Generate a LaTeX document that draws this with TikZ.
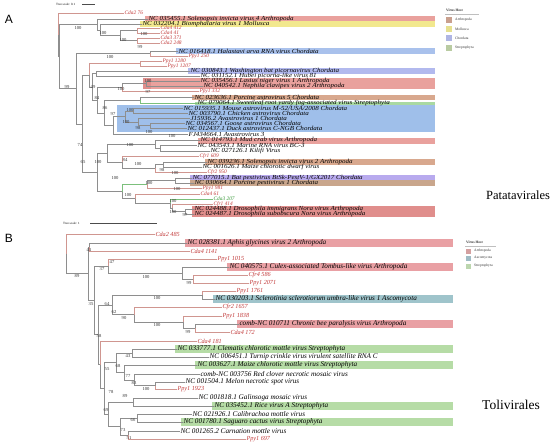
\documentclass[tikz,border=0pt]{standalone}
\usepackage{fontspec}
\setmainfont{Liberation Serif}
\setsansfont{Liberation Sans}
\newfontfamily\wideserif[FakeStretch=1.13]{Liberation Serif}
\definecolor{redlab}{HTML}{C23A3A}
\definecolor{greenlab}{HTML}{3A9A3A}
\definecolor{treegray}{HTML}{8E8E8E}
\definecolor{redbr}{HTML}{D09690}
\definecolor{greenbr}{HTML}{7CC07C}
\definecolor{arthA}{HTML}{E9A19D}
\definecolor{arthD}{HTML}{E08E8C}
\definecolor{mollA}{HTML}{F2E88E}
\definecolor{chordA}{HTML}{A9C1EC}
\definecolor{chordL}{HTML}{B2B9EE}
\definecolor{blockA}{HTML}{9FBFEA}
\definecolor{tanA}{HTML}{D8A88E}
\definecolor{tanB}{HTML}{C9A68C}
\definecolor{strepA}{HTML}{A9D9A2}
\definecolor{lilacA}{HTML}{B8AAEE}
\definecolor{lgArth}{HTML}{C9A08E}
\definecolor{lgMoll}{HTML}{E6E08F}
\definecolor{lgChor}{HTML}{AFB5E3}
\definecolor{lgStrA}{HTML}{B9CBA2}
\definecolor{arthB}{HTML}{E9A0A4}
\definecolor{ascoB}{HTML}{9FC4CB}
\definecolor{strepB}{HTML}{B6DCA6}
\definecolor{lgArthB}{HTML}{D4A0A0}
\definecolor{lgAscoB}{HTML}{9FBBC4}
\definecolor{lgStrB}{HTML}{BCD6AE}
\newcommand\lfA{\wideserif\fontsize{6.2}{6.2}\selectfont\itshape}
\newcommand\rfA{\fontsize{5.4}{5.4}\selectfont\itshape}
\newcommand\lfB{\fontsize{7.2}{7.2}\selectfont\itshape}
\newcommand\rfB{\fontsize{6.2}{6.2}\selectfont\itshape}
\newcommand\bsA{\fontsize{4.6}{4.6}\selectfont}
\newcommand\lgf{\fontsize{3.6}{3.6}\selectfont}
\newcommand\bandA[4]{\fill[#4] (#1,#2-2.6) rectangle (#3,#2+2.6);}
\newcommand\bandB[3]{\fill[#3] (#1,#2-3.8) rectangle (453,#2+3.8);}
\tikzset{
  ncA/.style={anchor=west,inner sep=0.3pt,font=\lfA,text=black},
  rlA/.style={anchor=west,inner sep=0.3pt,font=\rfA,text=redlab},
  glA/.style={rlA,text=greenlab},
  ncB/.style={anchor=west,inner sep=0.3pt,font=\lfB,text=black},
  rlB/.style={anchor=west,inner sep=0.3pt,font=\rfB,text=redlab},
  sup/.style={inner sep=0pt,font=\bsA,text=black!80},
  tl/.style={draw=treegray,line width=0.45pt},
  rt/.style={draw=redbr,line width=0.45pt},
  gt/.style={draw=greenbr,line width=0.45pt},
  lgt/.style={anchor=west,inner sep=0pt,font=\lgf,text=black!80},
}
\begin{document}
\begin{tikzpicture}[x=1pt,y=-1pt]
\fill[white] (0,0) rectangle (550,447);
\useasboundingbox (0,0) rectangle (550,447);

% ===== Panel A bands =====
\bandA{145}{19}{435}{arthA}
\bandA{140}{24}{435}{mollA}
\bandA{176}{51}{435}{chordA}
\bandA{188}{71}{435}{chordL}
\fill[arthA] (143,78.4) rectangle (435,88.8);
\fill[arthD] (143,78.4) rectangle (151,88.8);
\bandA{192}{97.5}{435}{tanA}
\fill[strepA] (195,101.6) rectangle (435,104.8);
\fill[blockA] (117,105.2) rectangle (435,132);
\bandA{198}{141}{435}{arthA}
\bandA{205}{162}{435}{tanA}
\bandA{190}{178}{435}{lilacA}
\bandA{190}{183}{435}{tanB}
\fill[arthD] (192,206.4) rectangle (435,216.8);

% ===== Panel A header =====
\node[font=\fontsize{12}{12}\selectfont\sffamily,inner sep=0] (lbA) at (9,19) {A};
\node[anchor=west,inner sep=0,font=\fontsize{3.2}{3.2}\selectfont] (tsA) at (56,4.5) {Tree scale: 0.1};
\coordinate (tsA1) at (82,4.5); \coordinate (tsA2) at (95,4.5);
\draw[black!70,line width=0.4pt] (tsA1) -- (tsA2);

% ===== Panel A leaves =====
\node[rlA] (a1) at (124,13) {Cda2 76};
\node[ncA] (a2) at (148,19) {NC 035455.1 Solenopsis invicta virus 4 Arthropoda};
\node[ncA] (a3) at (142,24) {NC 032204.1 Biomphalaria virus 1 Mollusca};
\node[rlA] (a4) at (160,28) {Cda4 412};
\node[rlA] (a5) at (160,33) {Cda4 41};
\node[rlA] (a6) at (160,38) {Cda3 371};
\node[rlA] (a7) at (160,43) {Cda2 248};
\node[ncA] (a8) at (178,51) {NC 016418.1 Halastavi arva RNA virus Chordata};
\node[rlA] (a9) at (188,56) {Ppy1 250};
\node[rlA] (a10) at (162,61) {Ppy1 1280};
\node[rlA] (a11) at (167,66) {Ppy1 1207};
\node[ncA] (a12) at (190,71) {NC 030843.1 Washington bat picornavirus Chordata};
\node[ncA] (a13) at (200,76) {NC 031152.1 Hubei picorna-like virus 81};
\node[ncA] (a14) at (200,81) {NC 035456.1 Lasius niger virus 1 Arthropoda};
\node[ncA] (a15) at (203,86) {NC 040542.1 Nephila clavipes virus 2 Arthropoda};
\node[rlA] (a16) at (199,91) {Ppy1 332};
\node[ncA] (a17) at (194,97.5) {NC 023636.1 Porcine astrovirus 5 Chordata};
\node[ncA] (a18) at (197,103.3) {NC 079064.1 Sweetleaf root yardy fog-associated virus Streptophyta};
\node[ncA] (a19) at (183,108.5) {NC 015935.1 Mouse astrovirus M-52/USA/2008 Chordata};
\node[ncA] (a20) at (188,113.3) {NC 003790.1 Chicken astrovirus Chordata};
\node[ncA] (a21) at (190,118.2) {J15936.2 Avastrovirus 1 Chordata};
\node[ncA] (a22) at (185,123.1) {NC 034567.1 Goose astrovirus Chordata};
\node[ncA] (a23) at (187,128) {NC 012437.1 Duck astrovirus C-NGB Chordata};
\node[ncA] (a24) at (188,134) {FJ434664.1 Avastrovirus 3};
\node[ncA] (a25) at (200,140.5) {NC 014793.1 Mud crab virus Arthropoda};
\node[ncA] (a26) at (197,145.7) {NC 043543.1 Marine RNA virus BC-3};
\node[ncA] (a27) at (210,151.3) {NC 027126.1 Kilifi Virus};
\node[rlA] (a28) at (199,156.3) {Cfr1 609};
\node[ncA] (a29) at (207,162) {NC 039236.1 Solenopsis invicta virus 2 Arthropoda};
\node[ncA] (a30) at (202,167) {NC 001626.1 Maize chlorotic dwarf virus};
\node[rlA] (a31) at (207,172) {Cfr2 950};
\node[ncA] (a32) at (192,178) {NC 077015.1 Bat pestivirus BtSk-PestV-1/GX2017 Chordata};
\node[ncA] (a33) at (194,183) {NC 030664.1 Porcine pestivirus 1 Chordata};
\node[rlA] (a34) at (202,188) {Ppy1 981};
\node[rlA] (a35) at (200,194) {Cda4 61};
\node[glA] (a36) at (213,199) {Cda3 207};
\node[rlA] (a37) at (213,204) {Cfr1 414};
\node[ncA] (a38) at (194,209) {NC 024488.1 Drosophila immigrans Nora virus Arthropoda};
\node[ncA] (a39) at (194,214) {NC 024487.1 Drosophila subobscura Nora virus Arthropoda};

% ===== Panel A internal nodes =====
\coordinate (R) at (58,34.7);
\coordinate (R2) at (59,56.4);
\coordinate (Tp) at (97,24.4);
\coordinate (Tq) at (100,29.75);
\coordinate (Tr) at (120,35.5);
\coordinate (Ts) at (137,30.5);
\coordinate (Tt) at (137,40.5);
\coordinate (Bg) at (76,88.4);
\coordinate (G1) at (150,53);
\coordinate (G2) at (82,123.8);
\coordinate (G3) at (89,75.1);
\coordinate (G3a) at (140,63.5);
\coordinate (G3b) at (92,86.8);
\coordinate (G5) at (96,73.5);
\coordinate (G7) at (97,100);
\coordinate (G8) at (122,87.25);
\coordinate (G8a) at (146,83.5);
\coordinate (G9) at (104,112.8);
\coordinate (G10) at (140,100.4);
\coordinate (G11) at (113,125.1);
\coordinate (G12) at (125,116.1);
\coordinate (G13) at (133,110.9);
\coordinate (G14) at (138,121.9);
\coordinate (G15) at (150,125.5);
\coordinate (G4) at (97,172.45);
\coordinate (G16) at (107,153.4);
\coordinate (G18) at (155,144.5);
\coordinate (G18b) at (160,148.5);
\coordinate (G19) at (122,162.1);
\coordinate (G20) at (155,168.25);
\coordinate (G21) at (163,164.5);
\coordinate (G17) at (122,191.5);
\coordinate (G22) at (147,184.25);
\coordinate (G22a) at (175,180.5);
\coordinate (G23) at (135,198.7);
\coordinate (G24) at (170,203.4);
\coordinate (G25) at (172,207.75);
\coordinate (G26) at (185,211.5);

% ===== Panel A branches =====
\draw[rt] (R) |- (a1);
\draw[tl] (R) |- (R2);
\draw[tl] (R2) |- (Tp); \draw[tl] (R2) |- (Bg);
\draw[tl] (Tp) |- (a2); \draw[tl] (Tp) |- (Tq);
\draw[tl] (Tq) |- (a3); \draw[tl] (Tq) |- (Tr);
\draw[tl] (Tr) |- (Ts); \draw[tl] (Tr) |- (Tt);
\draw[rt] (Ts) |- (a4); \draw[rt] (Ts) |- (a5);
\draw[rt] (Tt) |- (a6); \draw[rt] (Tt) |- (a7);
\draw[tl] (Bg) |- (G1); \draw[tl] (Bg) |- (G2);
\draw[tl] (G1) |- (a8); \draw[rt] (G1) |- (a9);
\draw[tl] (G2) |- (G3); \draw[tl] (G2) |- (G4);
\draw[rt] (G3) |- (G3a); \draw[tl] (G3) |- (G3b);
\draw[rt] (G3a) |- (a10); \draw[rt] (G3a) |- (a11);
\draw[tl] (G3b) |- (G5); \draw[tl] (G3b) |- (G7);
\draw[tl] (G5) |- (a12); \draw[tl] (G5) |- (a13);
\draw[tl] (G7) |- (G8); \draw[tl] (G7) |- (G9);
\draw[tl] (G8) |- (G8a); \draw[rt] (G8) |- (a16);
\draw[tl] (G8a) |- (a14); \draw[tl] (G8a) |- (a15);
\draw[tl] (G9) |- (G10); \draw[tl] (G9) |- (G11);
\draw[tl] (G10) |- (a17); \draw[gt] (G10) |- (a18);
\draw[tl] (G11) |- (G12); \draw[tl] (G11) |- (a24);
\draw[tl] (G12) |- (G13); \draw[tl] (G12) |- (G14);
\draw[tl] (G13) |- (a19); \draw[tl] (G13) |- (a20);
\draw[tl] (G14) |- (a21); \draw[tl] (G14) |- (G15);
\draw[tl] (G15) |- (a22); \draw[tl] (G15) |- (a23);
\draw[tl] (G4) |- (G16); \draw[tl] (G4) |- (G17);
\draw[tl] (G16) |- (G18); \draw[tl] (G16) |- (G19);
\draw[tl] (G18) |- (a25); \draw[tl] (G18) |- (G18b);
\draw[tl] (G18b) |- (a26); \draw[tl] (G18b) |- (a27);
\draw[rt] (G19) |- (a28); \draw[tl] (G19) |- (G20);
\draw[tl] (G20) |- (G21); \draw[rt] (G20) |- (a31);
\draw[tl] (G21) |- (a29); \draw[tl] (G21) |- (a30);
\draw[gt] (G17) |- (G22); \draw[tl] (G17) |- (G23);
\draw[tl] (G22) |- (G22a); \draw[rt] (G22) |- (a34);
\draw[tl] (G22a) |- (a32); \draw[tl] (G22a) |- (a33);
\draw[rt] (G23) |- (a35); \draw[tl] (G23) |- (G24);
\draw[gt] (G24) |- (a36); \draw[tl] (G24) |- (G25);
\draw[rt] (G25) |- (a37); \draw[tl] (G25) |- (G26);
\draw[tl] (G26) |- (a38); \draw[tl] (G26) |- (a39);

% ===== Panel A support values =====
\node[sup] (s1) at (78,28) {100};
\node[sup] (s2) at (103,33) {100};
\node[sup] (s3) at (123,40) {100};
\node[sup] (s4) at (144,34) {100};
\node[sup] (s5) at (140,47) {99};
\node[sup] (s6) at (67,87) {99};
\node[sup] (s7) at (110,57) {100};
\node[sup] (s8) at (93,87) {49};
\node[sup] (s9) at (121,89) {100};
\node[sup] (s10) at (148,81) {100};
\node[sup] (s11) at (148,92) {97};
\node[sup] (s12) at (97,98) {84};
\node[sup] (s13) at (105,108) {86};
\node[sup] (s14) at (113,114) {97};
\node[sup] (s15) at (130,110) {100};
\node[sup] (s16) at (126,122) {100};
\node[sup] (s17) at (138,128) {98};
\node[sup] (s18) at (149,132) {100};
\node[sup] (s19) at (172,136) {100};
\node[sup] (s20) at (80,145) {74};
\node[sup] (s21) at (83,162) {65};
\node[sup] (s22) at (98,162) {100};
\node[sup] (s23) at (130,145) {100};
\node[sup] (s24) at (125,160) {84};
\node[sup] (s25) at (138,164) {100};
\node[sup] (s26) at (162,170) {98};
\node[sup] (s27) at (175,173) {100};
\node[sup] (s28) at (115,178) {100};
\node[sup] (s29) at (149,183) {100};
\node[sup] (s30) at (177,189) {100};
\node[sup] (s31) at (128,195) {100};
\node[sup] (s32) at (173,201) {100};
\node[sup] (s33) at (173,212) {100};
\node[sup] (s34) at (185,215) {97};

% ===== Panel A legend =====
\node[lgt,font=\lgf\bfseries] (lgA0) at (446,10) {Virus Host};
\coordinate (lgAl1) at (445,14); \coordinate (lgAl2) at (479,14);
\draw[black!25,line width=0.3pt] (lgAl1) -- (lgAl2);
\fill[lgArth] (446,16.5) rectangle (452,22.5);
\fill[lgMoll] (446,26) rectangle (452,32);
\fill[lgChor] (446,35) rectangle (452,41);
\fill[lgStrA] (446,44.5) rectangle (452,50.5);
\node[lgt] (lgA1) at (455,19.5) {Arthropoda};
\node[lgt] (lgA2) at (455,29) {Mollusca};
\node[lgt] (lgA3) at (455,38) {Chordata};
\node[lgt] (lgA4) at (455,47.5) {Streptophyta};
\node[font=\fontsize{12.5}{12.5}\selectfont,inner sep=0] (patA) at (518,195) {Patatavirales};

% ===== Panel B =====
\node[font=\fontsize{12}{12}\selectfont\sffamily,inner sep=0] (lbB) at (9,238) {B};
\node[anchor=west,inner sep=0,font=\fontsize{3.2}{3.2}\selectfont] (tsB) at (63,223) {Tree scale: 1};
\coordinate (tsB1) at (90,223); \coordinate (tsB2) at (157,223);
\draw[black!70,line width=0.4pt] (tsB1) -- (tsB2);

\bandB{185}{243}{arthB}
\bandB{227}{267}{arthB}
\bandB{213}{299}{ascoB}
\bandB{237}{324}{arthB}
\bandB{175}{349}{strepB}
\bandB{195}{365}{strepB}
\bandB{212}{406}{strepB}
\bandB{181}{422}{strepB}

\node[rlB] (b0) at (155,234) {Cda2 485};
\node[ncB] (b1) at (187,243) {NC 028381.1 Aphis glycines virus 2 Arthropoda};
\node[rlB] (b2) at (190,251) {Cda4 1141};
\node[rlB] (b3) at (217,259) {Ppy1 1015};
\node[ncB] (b4) at (229,267) {NC 040575.1 Culex-associated Tombus-like virus Arthropoda};
\node[rlB] (b5) at (248,275) {Cfr4 586};
\node[rlB] (b6) at (249,283) {Ppy1 2071};
\node[rlB] (b7) at (236,291) {Ppy1 1761};
\node[ncB] (b8) at (215,299) {NC 030203.1 Sclerotinia sclerotiorum umbra-like virus 1 Ascomycota};
\node[rlB] (b9) at (222,307) {Cfr2 1657};
\node[rlB] (b10) at (222,316) {Ppy1 1838};
\node[ncB] (b11) at (239,324) {comb-NC 010711 Chronic bee paralysis virus Arthropoda};
\node[rlB] (b12) at (230,332) {Cda4 172};
\node[rlB] (b13) at (197,341) {Cda4 181};
\node[ncB] (b14) at (177,349) {NC 033777.1 Clematis chlorotic mottle virus Streptophyta};
\node[ncB] (b15) at (209,357) {NC 006451.1 Turnip crinkle virus virulent satellite RNA C};
\node[ncB] (b16) at (197,365) {NC 003627.1 Maize chlorotic mottle virus Streptophyta};
\node[ncB] (b17) at (200,374) {comb-NC 003756 Red clover necrotic mosaic virus};
\node[ncB] (b18) at (185,382) {NC 001504.1 Melon necrotic spot virus};
\node[rlB] (b19) at (177,389) {Ppy1 1923};
\node[ncB] (b20) at (198,398) {NC 001818.1 Galinsoga mosaic virus};
\node[ncB] (b21) at (214,406) {NC 035452.1 Rice virus A Streptophyta};
\node[ncB] (b22) at (192,414) {NC 021926.1 Calibrachoa mottle virus};
\node[ncB] (b23) at (183,422) {NC 001780.1 Saguaro cactus virus Streptophyta};
\node[ncB] (b24) at (180,431) {NC 001265.2 Carnation mottle virus};
\node[rlB] (b25) at (246,439) {Ppy1 697};

\coordinate (BR) at (66,253.9);
\coordinate (BA) at (88,273.7);
\coordinate (BB) at (89,247);
\coordinate (BC) at (94,300.4);
\coordinate (BD) at (108,266);
\coordinate (BH) at (182,273);
\coordinate (BI) at (193,279);
\coordinate (BQ) at (98,334.7);
\coordinate (BJ) at (112,304.75);
\coordinate (BK) at (202,295);
\coordinate (BN) at (134,314.5);
\coordinate (BO) at (183,322);
\coordinate (BP) at (195,328);
\coordinate (BT) at (100,364.7);
\coordinate (BU) at (104,388.5);
\coordinate (BV) at (116,362.7);
\coordinate (BW) at (132,353);
\coordinate (BY) at (124,372.4);
\coordinate (BZ) at (134,379.75);
\coordinate (BAA) at (155,385.5);
\coordinate (BGG) at (108,414.25);
\coordinate (BCC) at (133,402);
\coordinate (BFF) at (120,426.5);
\coordinate (BDD) at (137,418);
\coordinate (BKK) at (128,435);

\draw[rt] (BR) |- (b0); \draw[tl] (BR) |- (BA);
\draw[tl] (BA) |- (BB); \draw[tl] (BA) |- (BC);
\draw[tl] (BB) |- (b1); \draw[rt] (BB) |- (b2);
\draw[tl] (BC) |- (BD); \draw[tl] (BC) |- (BQ);
\draw[rt] (BD) |- (b3); \draw[tl] (BD) |- (BH);
\draw[tl] (BH) |- (b4); \draw[tl] (BH) |- (BI);
\draw[rt] (BI) |- (b5); \draw[rt] (BI) |- (b6);
\draw[tl] (BQ) |- (BJ); \draw[tl] (BQ) |- (BT);
\draw[tl] (BJ) |- (BK); \draw[tl] (BJ) |- (BN);
\draw[rt] (BK) |- (b7); \draw[tl] (BK) |- (b8);
\draw[rt] (BN) |- (b9); \draw[tl] (BN) |- (BO);
\draw[rt] (BO) |- (b10); \draw[tl] (BO) |- (BP);
\draw[tl] (BP) |- (b11); \draw[rt] (BP) |- (b12);
\draw[rt] (BT) |- (b13); \draw[tl] (BT) |- (BU);
\draw[tl] (BU) |- (BV); \draw[tl] (BU) |- (BGG);
\draw[tl] (BV) |- (BW); \draw[tl] (BV) |- (BY);
\draw[tl] (BW) |- (b14); \draw[tl] (BW) |- (b15);
\draw[tl] (BY) |- (b16); \draw[tl] (BY) |- (BZ);
\draw[tl] (BZ) |- (b17); \draw[tl] (BZ) |- (BAA);
\draw[tl] (BAA) |- (b18); \draw[rt] (BAA) |- (b19);
\draw[tl] (BGG) |- (BCC); \draw[tl] (BGG) |- (BFF);
\draw[tl] (BCC) |- (b20); \draw[tl] (BCC) |- (b21);
\draw[tl] (BFF) |- (BDD); \draw[tl] (BFF) |- (BKK);
\draw[tl] (BDD) |- (b22); \draw[tl] (BDD) |- (b23);
\draw[tl] (BKK) |- (b24); \draw[rt] (BKK) |- (b25);

\node[sup] (t1) at (77,276) {89};
\node[sup] (t2) at (89,250) {41};
\node[sup] (t3) at (91,304) {35};
\node[sup] (t4) at (102,269) {37};
\node[sup] (t5) at (112,262) {47};
\node[sup] (t6) at (146,277) {100};
\node[sup] (t7) at (189,283) {99};
\node[sup] (t8) at (157,298) {100};
\node[sup] (t9) at (107,304) {64};
\node[sup] (t10) at (114,312) {62};
\node[sup] (t11) at (124,318) {90};
\node[sup] (t12) at (157,325) {100};
\node[sup] (t13) at (188,332) {99};
\node[sup] (t14) at (99,336) {58};
\node[sup] (t15) at (128,356) {43};
\node[sup] (t16) at (118,366) {68};
\node[sup] (t17) at (107,369) {55};
\node[sup] (t18) at (128,376) {77};
\node[sup] (t19) at (134,383) {83};
\node[sup] (t20) at (146,389) {100};
\node[sup] (t21) at (111,392) {78};
\node[sup] (t22) at (125,396) {89};
\node[sup] (t23) at (106,410) {69};
\node[sup] (t24) at (133,420) {66};
\node[sup] (t25) at (123,430) {73};
\node[sup] (t26) at (129,438) {51};

\node[lgt,font=\lgf\bfseries] (lgB0) at (466,242) {Virus Host};
\coordinate (lgBl1) at (465,246); \coordinate (lgBl2) at (496,246);
\draw[black!25,line width=0.3pt] (lgBl1) -- (lgBl2);
\fill[lgArthB] (466,248.5) rectangle (471,253.5);
\fill[lgAscoB] (466,255.5) rectangle (471,260.5);
\fill[lgStrB] (466,263.5) rectangle (471,268.5);
\node[lgt] (lgB1) at (474,251) {Arthropoda};
\node[lgt] (lgB2) at (474,258) {Ascomycota};
\node[lgt] (lgB3) at (474,266) {Streptophyta};
\node[font=\fontsize{13.5}{13.5}\selectfont,inner sep=0] (tolB) at (511,405) {Tolivirales};
\end{tikzpicture}
\end{document}
